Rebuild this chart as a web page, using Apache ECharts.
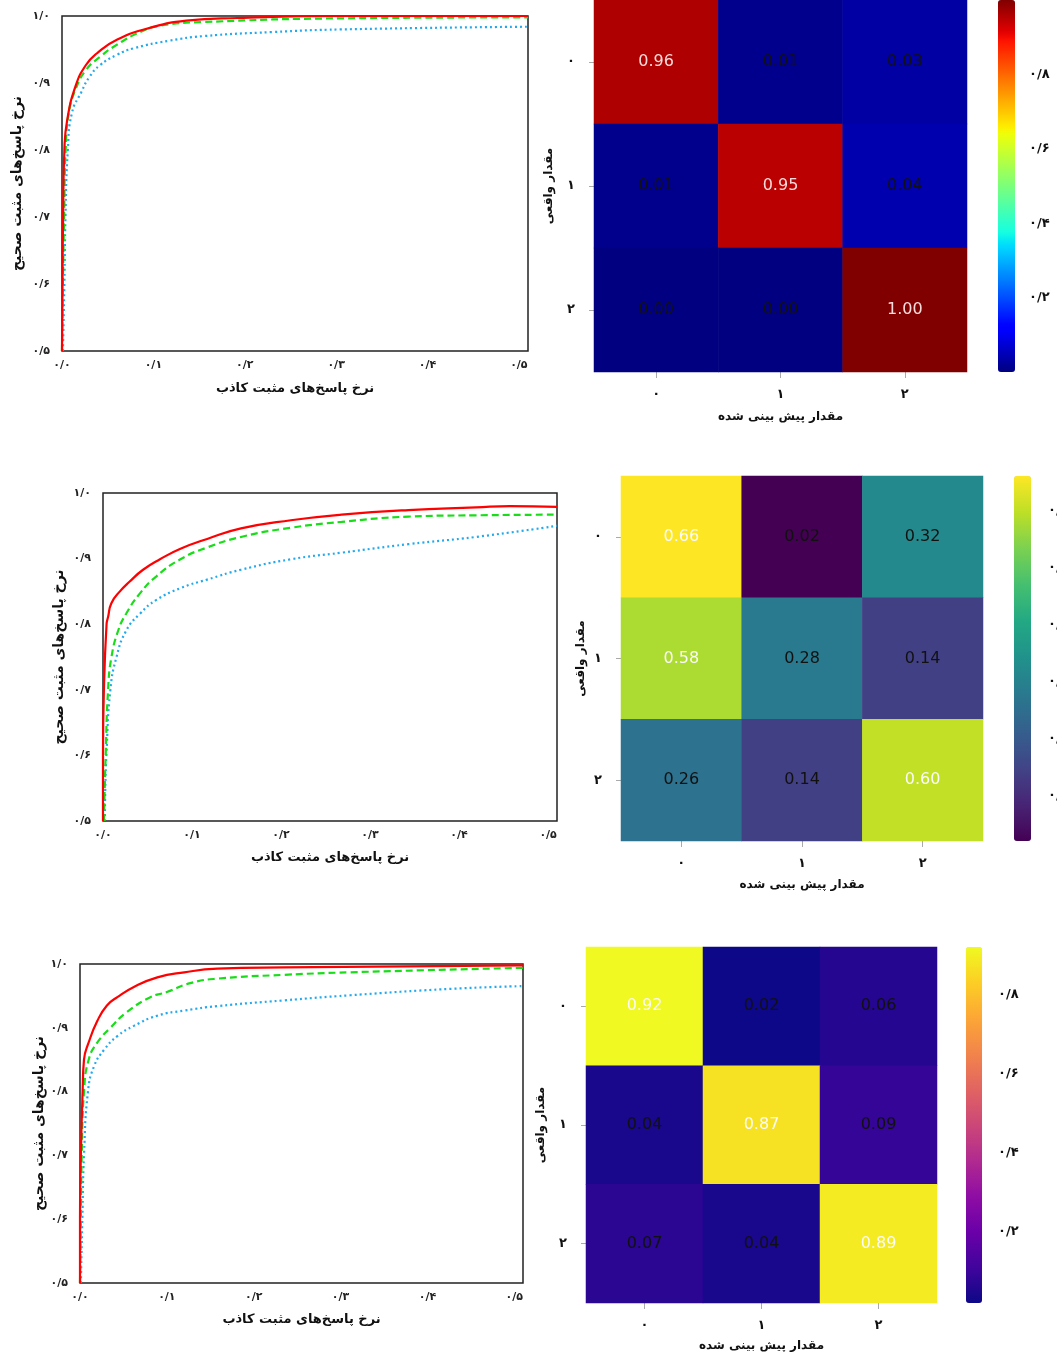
<!DOCTYPE html>
<html><head><meta charset="utf-8">
<script src="https://cdn.jsdelivr.net/npm/echarts@6/dist/echarts.min.js"></script>
<style>html,body{margin:0;padding:0;background:#fff}#c{width:1057px;height:1358px}</style>
</head><body><div id="c"></div>
<script>
// ---------- data ----------
const classLabels = ['۰', '۱', '۲'];
const rocXTicks = [0, 0.1, 0.2, 0.3, 0.4, 0.5];
const rocYTicks = [0.5, 0.6, 0.7, 0.8, 0.9, 1.0];
const rocXName = 'نرخ پاسخ‌های مثبت کاذب';
const rocYName = 'نرخ پاسخ‌های مثبت صحیح';
const cmXName = 'مقدار پیش بینی شده';
const cmYName = 'مقدار واقعی';

const roc1Red = [[0,0.5],[0.0005,0.6],[0.0012,0.7],[0.0026,0.8],[0.0057,0.845],[0.015,0.896],[0.026,0.9265],[0.038,0.944],[0.06,0.9645],[0.098,0.983],[0.136,0.993],[0.192,0.997],[0.306,1.0],[0.51,1.0]];
const roc1Green = [[0,0.5],[0.001,0.6],[0.0023,0.7],[0.004,0.8],[0.0075,0.856],[0.015,0.891],[0.026,0.919],[0.0415,0.939],[0.06,0.957],[0.087,0.977],[0.109,0.986],[0.155,0.991],[0.306,0.9965],[0.51,0.998]];
const roc1Blue = [[0.001,0.5],[0.0026,0.6],[0.0038,0.7],[0.0064,0.8],[0.011,0.856],[0.021,0.886],[0.03,0.909],[0.0415,0.9265],[0.06,0.942],[0.079,0.952],[0.117,0.963],[0.155,0.97],[0.23,0.976],[0.306,0.98],[0.51,0.984]];

const roc2Red = [[0,0.5],[0,0.6],[0.001,0.7],[0.004,0.8],[0.0057,0.811],[0.0094,0.832],[0.019,0.85],[0.03,0.865],[0.045,0.883],[0.064,0.899],[0.087,0.915],[0.117,0.93],[0.155,0.946],[0.211,0.9585],[0.268,0.967],[0.343,0.974],[0.419,0.978],[0.457,0.98],[0.51,0.979]];
const roc2Green = [[0.001,0.5],[0.003,0.6],[0.0057,0.7],[0.0094,0.749],[0.017,0.79],[0.026,0.816],[0.0415,0.847],[0.06,0.873],[0.087,0.899],[0.117,0.917],[0.155,0.933],[0.211,0.947],[0.268,0.956],[0.343,0.964],[0.419,0.966],[0.51,0.967]];
const roc2Blue = [[0.002,0.5],[0.0026,0.55],[0.0038,0.6],[0.0083,0.7],[0.015,0.749],[0.026,0.79],[0.0415,0.816],[0.06,0.837],[0.087,0.855],[0.117,0.868],[0.155,0.883],[0.211,0.899],[0.268,0.909],[0.343,0.922],[0.419,0.933],[0.51,0.95]];

const roc3Red = [[0,0.5],[0,0.6],[0.001,0.7],[0.003,0.8],[0.0046,0.85],[0.01,0.877],[0.02,0.911],[0.031,0.935],[0.043,0.948],[0.062,0.964],[0.089,0.979],[0.12,0.987],[0.158,0.9926],[0.235,0.9947],[0.51,0.998]];
const roc3Green = [[0,0.5],[0.001,0.6],[0.002,0.7],[0.0046,0.8],[0.01,0.85],[0.02,0.877],[0.035,0.9],[0.054,0.9245],[0.081,0.948],[0.1,0.956],[0.127,0.97],[0.158,0.977],[0.235,0.983],[0.311,0.987],[0.51,0.994]];
const roc3Blue = [[0.001,0.5],[0.0027,0.6],[0.0046,0.7],[0.0092,0.8],[0.016,0.839],[0.028,0.866],[0.043,0.887],[0.062,0.903],[0.089,0.919],[0.12,0.927],[0.158,0.934],[0.235,0.943],[0.311,0.951],[0.426,0.961],[0.51,0.9654]];

const cm1 = [[0.96,0.01,0.03],[0.01,0.95,0.04],[0.00,0.00,1.00]];
const cm2 = [[0.66,0.02,0.32],[0.58,0.28,0.14],[0.26,0.14,0.60]];
const cm3 = [[0.92,0.02,0.06],[0.04,0.87,0.09],[0.07,0.04,0.89]];
const cb1Ticks = [0.2, 0.4, 0.6, 0.8];
const cb2Ticks = [0.1, 0.2, 0.3, 0.4, 0.5, 0.6];
const cb3Ticks = [0.2, 0.4, 0.6, 0.8];

// ---------- palettes (styling) ----------
function jetAt(t){
  const seg = pts => { for (let i=1;i<pts.length;i++){ if (t<=pts[i][0]){ const [x0,y0]=pts[i-1],[x1,y1]=pts[i]; return y0+(y1-y0)*(t-x0)/(x1-x0);} } return pts[pts.length-1][1]; };
  const r=seg([[0,0],[0.35,0],[0.66,1],[0.89,1],[1,0.5]]);
  const g=seg([[0,0],[0.125,0],[0.375,1],[0.64,1],[0.91,0],[1,0]]);
  const b=seg([[0,0.5],[0.11,1],[0.34,1],[0.65,0],[1,0]]);
  return 'rgb('+Math.round(r*255)+','+Math.round(g*255)+','+Math.round(b*255)+')';
}
const jetColors = Array.from({length:65},(_,i)=>jetAt(i/64));
const viridisColors = ['#440154','#482475','#414487','#355f8d','#2a788e','#21918c','#22a884','#44bf70','#7ad151','#bddf26','#fde725'];
const plasmaColors = ['#0d0887','#41049d','#6a00a8','#8f0da4','#b12a90','#cc4778','#e16462','#f2844b','#fca636','#fcce25','#f0f921'];

const faDigits = '۰۱۲۳۴۵۶۷۸۹';
function fa(v){ return (Math.round(v*10)/10).toFixed(1).replace(/\d/g, d=>faDigits[d]).replace('.', '/'); }

const FONT = 'DejaVu Sans';
const rocLayout = [
  {left:62, top:16, width:466, height:335, yGap:38, xGap:31},
  {left:103, top:493, width:454, height:328, yGap:37, xGap:30},
  {left:80, top:964, width:443, height:319, yGap:34, xGap:30}
];
const cmLayout = [
  {left:594, top:0, width:373, height:372, yGap:39, xGap:39, ym:19, xm:16, lab:16, light:'#f8dcdc'},
  {left:621, top:476, width:362, height:365, yGap:34, xGap:38, ym:19, xm:16, lab:16, light:'#fafafa'},
  {left:586, top:947, width:351, height:356, yGap:39, xGap:37, ym:19, xm:16, lab:16, light:'#fafafa'}
];
const cbLayout = [
  {left:998, top:0, width:17, height:372, margin:14},
  {left:1014, top:476, width:17, height:365, margin:17},
  {left:966, top:947, width:16, height:356, margin:16}
];
const rocSets = [[roc1Red, roc1Green, roc1Blue],[roc2Red, roc2Green, roc2Blue],[roc3Red, roc3Green, roc3Blue]];
const cms = [cm1, cm2, cm3];
const cbTicks = [cb1Ticks, cb2Ticks, cb3Ticks];
const palettes = [jetColors, viridisColors, plasmaColors];

const grid = [], xAxis = [], yAxis = [], series = [], visualMap = [];
const nameStyle = {fontFamily: FONT, fontWeight:'bold', fontSize:12, color:'#111'};
const lineStyles = [
  {color:'#ff0000', width:2.2, type:'solid'},
  {color:'#18dd18', width:2.2, type:[7,4]},
  {color:'#22aaee', width:2.2, type:[2,3]}
];

rocLayout.forEach((L, i) => {
  grid.push({left:L.left, top:L.top, width:L.width, height:L.height, outerBoundsMode:'none', containLabel:false,
    show:true, borderColor:'#222', borderWidth:1.5, backgroundColor:'rgba(0,0,0,0)'});
  xAxis.push({type:'value', gridIndex:i, min:0, max:0.51,
    axisLine:{show:false}, axisTick:{show:false}, splitLine:{show:false},
    axisLabel:{customValues: rocXTicks, formatter: fa, margin:9, fontSize:11, fontWeight:'bold', color:'#222', fontFamily:FONT},
    name: rocXName, nameLocation:'middle', nameGap:L.xGap, nameTextStyle: Object.assign({}, nameStyle, {fontSize:13})});
  yAxis.push({type:'value', gridIndex:i, min:0.5, max:1.0, interval:0.1,
    axisLine:{show:false}, axisTick:{show:false}, splitLine:{show:false},
    axisLabel:{formatter: fa, margin:12, fontSize:11, fontWeight:'bold', color:'#222', fontFamily:FONT},
    name: rocYName, nameLocation:'middle', nameGap:L.yGap, nameTextStyle: Object.assign({}, nameStyle, {fontSize:14})});
  rocSets[i].forEach((d, k) => {
    series.push({type:'line', xAxisIndex:i, yAxisIndex:i, data:d, showSymbol:false, smooth:0.5,
      lineStyle: lineStyles[k], silent:true, z: 3 - k});
  });
});

cmLayout.forEach((L, j) => {
  const gi = 3 + j;
  const cm = cms[j];
  const flat = cm.flat();
  const vmin = Math.min(...flat), vmax = Math.max(...flat);
  const mid = (vmin + vmax) / 2;
  grid.push({left:L.left, top:L.top, width:L.width, height:L.height, outerBoundsMode:'none', containLabel:false});
  xAxis.push({type:'category', gridIndex:gi, data:classLabels, position:'bottom',
    axisLine:{show:false}, axisTick:{show:true, alignWithLabel:true, length:6, lineStyle:{color:'#aaa'}},
    axisLabel:{margin:L.xm, fontSize:13, fontWeight:'bold', color:'#111', fontFamily:FONT},
    name: cmXName, nameLocation:'middle', nameGap:L.xGap, nameTextStyle: nameStyle});
  yAxis.push({type:'category', gridIndex:gi, data:classLabels, inverse:true,
    axisLine:{show:false}, axisTick:{show:true, alignWithLabel:true, length:5, lineStyle:{color:'#aaa'}},
    axisLabel:{margin:L.ym, fontSize:13, fontWeight:'bold', color:'#111', fontFamily:FONT},
    name: cmYName, nameLocation:'middle', nameGap:L.yGap, nameTextStyle: nameStyle});
  const data = [];
  cm.forEach((row, r) => row.forEach((v, c) => {
    data.push({value:[c, r, v], label:{color: v > mid ? L.light : '#111'}});
  }));
  series.push({type:'heatmap', xAxisIndex:gi, yAxisIndex:gi, data, silent:true,
    label:{show:true, formatter: p => p.value[2].toFixed(2), fontSize:L.lab, fontFamily:FONT},
    emphasis:{disabled:true}});
  visualMap.push({type:'continuous', seriesIndex: 9 + j, min:vmin, max:vmax, orient:'vertical',
    left: cbLayout[j].left, top: cbLayout[j].top, itemWidth: cbLayout[j].width, itemHeight: cbLayout[j].height,
    calculable:false, text:null, padding:0, hoverLink:false, inRange:{color: palettes[j]}});
});

cbLayout.forEach((L, j) => {
  const gi = 6 + j;
  const flat = cms[j].flat();
  grid.push({left:L.left, top:L.top, width:L.width, height:L.height, outerBoundsMode:'none', containLabel:false});
  xAxis.push({type:'value', gridIndex:gi, min:0, max:1, show:false});
  yAxis.push({type:'value', gridIndex:gi, position:'right', min:Math.min(...flat), max:Math.max(...flat),
    axisLine:{show:false}, splitLine:{show:false},
    axisTick:{show:true, customValues: cbTicks[j], length:6, lineStyle:{color:'#aaa'}},
    axisLabel:{customValues: cbTicks[j], formatter: fa, margin:L.margin, fontSize:13, fontWeight:'bold', color:'#111', fontFamily:FONT}});
  series.push({type:'scatter', xAxisIndex:gi, yAxisIndex:gi, data:[]});
});

const chart = echarts.init(document.getElementById('c'), null, {renderer:'canvas'});
chart.setOption({animation:false, backgroundColor:'#fff', grid, xAxis, yAxis, series, visualMap});
</script>
</body></html>
